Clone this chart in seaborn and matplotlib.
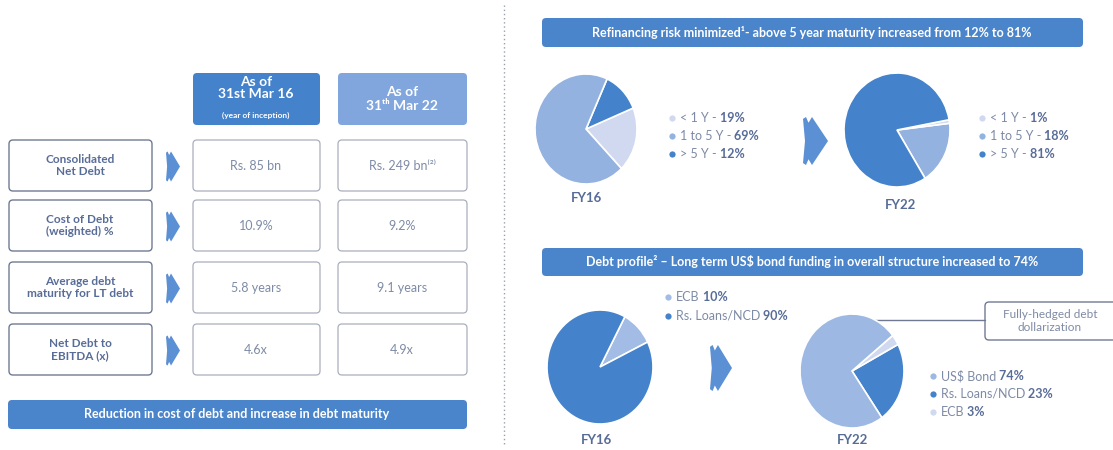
import numpy as np
import matplotlib.pyplot as plt
import seaborn as sns
from matplotlib.patches import FancyBboxPatch, Polygon

sns.set_theme(style="white")
plt.rcParams['font.family'] = ['Lato', 'DejaVu Sans']

# Data
metrics = ["Consolidated\nNet Debt", "Cost of Debt\n(weighted) %",
           "Average debt\nmaturity for LT debt", "Net Debt to\nEBITDA (x)"]
fy16_values = ["Rs. 85 bn", "10.9%", "5.8 years", "4.6x"]
fy22_values = ["Rs. 249 bn\u207d\u00b2\u207e", "9.2%", "9.1 years", "4.9x"]

maturity_labels = ["< 1 Y", "1 to 5 Y", "> 5 Y"]
maturity_fy16 = [19, 69, 12]
maturity_fy22 = [1, 18, 81]

debt_labels_fy16 = ["ECB", "Rs. Loans/NCD"]
debt_fy16 = [10, 90]
debt_labels_fy22 = ["US$ Bond", "Rs. Loans/NCD", "ECB"]
debt_fy22 = [74, 23, 3]

W, H = 1113, 450
DARK = "#4482cb"
MID = "#94b2df"
LIGHT = "#d0d9ef"
TXT = "#7e8ba6"
LBL = "#586c98"

fig = plt.figure(figsize=(W / 100, H / 100), dpi=100)
ax = fig.add_axes([0, 0, 1, 1])
ax.set_xlim(0, W)
ax.set_ylim(H, 0)
ax.axis('off')


def box(x0, y0, x1, y1, fc, ec, lw=1.0, r=4):
    p = FancyBboxPatch((x0, y0), x1 - x0, y1 - y0,
                       boxstyle=f"round,pad=0,rounding_size={r}",
                       fc=fc, ec=ec, lw=lw)
    ax.add_patch(p)


def chevron(x0, yc, w, h):
    y0, y1 = yc - h / 2, yc + h / 2
    pts = [(x0, y0 + 0.04 * h), (x0 + 0.12 * w, y0), (x0 + 0.22 * w, y0 + 0.12 * h),
           (x0 + 0.36 * w, y0), (x0 + w, yc), (x0 + 0.36 * w, y1),
           (x0 + 0.22 * w, y1 - 0.12 * h), (x0 + 0.12 * w, y1), (x0, y1 - 0.04 * h),
           (x0 + 0.08 * w, yc)]
    ax.add_patch(Polygon(pts, closed=True, fc="#5b90d4", ec='none'))


def legend_rows(x, ys, labels, values, colors, sep=" - "):
    for y, lab, val, c in zip(ys, labels, values, colors):
        ax.plot(x, y, 'o', ms=4.5, color=c, mec='none')
        t = ax.text(x + 8, y, lab + sep.rstrip(), fontsize=9, color=TXT, va='center', ha='left')
        ax.annotate(f" {val}%", xy=(1, 0.5), xycoords=t, fontsize=9, color=LBL,
                    fontweight='bold', va='center', ha='left')


# ---- left panel ----
box(193, 73, 320, 125, DARK, 'none')
box(338, 73, 467, 125, "#80a6dd", 'none')
ax.text(256, 88, "As of\n31st Mar 16", color='white', fontsize=10, fontweight='bold',
        ha='center', va='center', linespacing=1.1)
ax.text(256, 115, "(year of inception)", color='white', fontsize=6, fontweight='bold',
        ha='center', va='center')
ax.text(402, 99, "As of\n31\u1d57\u02b0 Mar 22", color='white', fontsize=10, fontweight='bold',
        ha='center', va='center', linespacing=1.1)

row_y = [(140, 191), (200, 251), (262, 313), (324, 375)]
for (y0, y1), m, v16, v22 in zip(row_y, metrics, fy16_values, fy22_values):
    yc = (y0 + y1) / 2
    box(9, y0, 152, y1, 'white', "#6f7a92", lw=1.0)
    ax.text(80, yc, m, fontsize=8.5, color=LBL, fontweight='bold', ha='center', va='center',
            linespacing=1.2)
    chevron(166, yc + 1, 14, 30)
    box(193, y0, 320, y1, 'white', "#a9afbd", lw=0.9)
    box(338, y0, 467, y1, 'white', "#a9afbd", lw=0.9)
    ax.text(256, yc, v16, fontsize=9, color=TXT, ha='center', va='center')
    ax.text(402, yc, v22, fontsize=9, color=TXT, ha='center', va='center')

box(8, 400, 467, 429, "#4a84ca", 'none')
ax.text(237, 414.5, "Reduction in cost of debt and increase in debt maturity", color='white',
        fontsize=9, fontweight='bold', ha='center', va='center')

# separator
ax.plot([504, 504], [5, 445], color="#9aa0aa", lw=1.0, ls=(0, (1, 2)))

# ---- right panel ----
box(542, 18, 1083, 47, "#4a84ca", 'none')
ax.text(812, 32.5, "Refinancing risk minimized\u00b9- above 5 year maturity increased from 12% to 81%",
        color='white', fontsize=9, fontweight='bold', ha='center', va='center')
box(542, 248, 1083, 276, "#4a84ca", 'none')
ax.text(812, 262, "Debt profile\u00b2 \u2013 Long term US$ bond funding in overall structure increased to 74%",
        color='white', fontsize=9, fontweight='bold', ha='center', va='center')


def pie_axes(cx, cy, rx, ry):
    return fig.add_axes([(cx - rx) / W, 1 - (cy + ry) / H, 2 * rx / W, 2 * ry / H])


def draw_pie(cx, cy, rx, ry, vals, cols, start):
    pa = pie_axes(cx, cy, rx, ry)
    pa.pie(vals, colors=cols, startangle=start, counterclock=True,
           wedgeprops=dict(edgecolor='white', linewidth=1.2))
    pa.set_aspect('auto')
    pa.set_xlim(-1, 1)
    pa.set_ylim(-1, 1)
    pa.axis('off')


mat_colors = [LIGHT, MID, DARK]
# FY16 maturity: ccw order <1Y, >5Y, 1-5Y
o16 = [0, 2, 1]
draw_pie(586, 129, 51, 55, [maturity_fy16[i] for i in o16], [mat_colors[i] for i in o16], -46)
# FY22 maturity: ccw order 1-5Y, <1Y, >5Y
o22 = [1, 0, 2]
draw_pie(897, 130, 53, 57, [maturity_fy22[i] for i in o22], [mat_colors[i] for i in o22], -58)

legend_rows(672, [118, 136, 154], maturity_labels, maturity_fy16, mat_colors)
legend_rows(982, [118, 136, 154], maturity_labels, maturity_fy22, mat_colors)
ax.text(586, 198, "FY16", fontsize=9.5, color=LBL, fontweight='bold', ha='center', va='center')
ax.text(900, 205, "FY22", fontsize=9.5, color=LBL, fontweight='bold', ha='center', va='center')
chevron(803, 141, 25, 48)

# debt profile
d16_colors = ["#a3bce6", DARK]
draw_pie(600, 367, 53, 57, debt_fy16, d16_colors, 26)
d22_colors = ["#9db8e3", DARK, LIGHT]
o = [1, 2, 0]
draw_pie(852, 371, 52, 57, [debt_fy22[i] for i in o], [d22_colors[i] for i in o], -55)

legend_rows(668, [297, 316], debt_labels_fy16, debt_fy16, d16_colors, sep="")
legend_rows(933, [376, 394, 412], debt_labels_fy22, debt_fy22, d22_colors, sep="")
ax.text(597, 440, "FY16", fontsize=9.5, color=LBL, fontweight='bold', ha='center', va='center')
ax.text(852, 440, "FY22", fontsize=9.5, color=LBL, fontweight='bold', ha='center', va='center')
chevron(710, 368, 22, 46)

# callout
ax.plot([860, 985], [320, 320], color="#6f7a92", lw=1.0)
box(985, 302, 1125, 340, 'white', "#6f7a92", lw=1.0)
ax.text(1050, 321, "Fully-hedged debt\ndollarization", fontsize=8.5, color=TXT,
        ha='center', va='center', linespacing=1.2)

fig.savefig("out.png", dpi=100)
